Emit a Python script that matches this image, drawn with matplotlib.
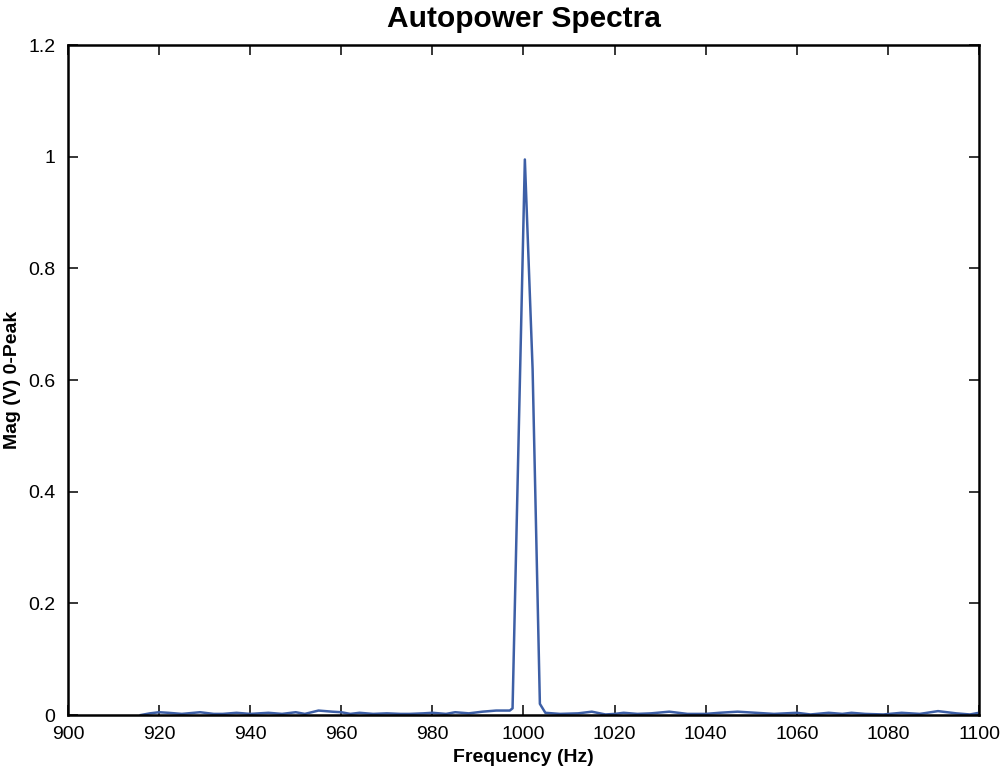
import matplotlib
matplotlib.use("Agg")
import matplotlib.pyplot as plt

plt.rcParams['font.family'] = ['Liberation Sans', 'DejaVu Sans']

freq_hz = [916, 918, 920, 922, 925, 929, 932, 934, 937, 940, 944, 947, 950, 952,
           955, 958, 960, 962, 964, 967, 970, 973, 975, 978, 980, 983, 985, 988,
           991, 994, 997, 997.6, 1000.3, 1002.0, 1003.6, 1004.8, 1008, 1012, 1015,
           1018, 1020, 1022, 1025, 1028, 1032, 1036, 1040, 1043, 1047, 1051, 1055,
           1060, 1063, 1067, 1070, 1072, 1075, 1079, 1083, 1087, 1091, 1095, 1098, 1100]
mag_v = [0.0, 0.003, 0.005, 0.004, 0.002, 0.005, 0.002, 0.002, 0.004, 0.002, 0.004,
         0.002, 0.005, 0.002, 0.008, 0.006, 0.005, 0.002, 0.004, 0.002, 0.003, 0.002,
         0.002, 0.003, 0.004, 0.002, 0.005, 0.003, 0.006, 0.008, 0.008, 0.012, 0.995,
         0.62, 0.02, 0.004, 0.002, 0.003, 0.006, 0.001, 0.002, 0.004, 0.002, 0.003,
         0.006, 0.002, 0.002, 0.004, 0.006, 0.004, 0.002, 0.004, 0.001, 0.004, 0.002,
         0.004, 0.002, 0.001, 0.004, 0.002, 0.007, 0.003, 0.001, 0.004]

xticks = list(range(900, 1101, 20))
yticks = [0, 0.2, 0.4, 0.6, 0.8, 1, 1.2]
ytick_labels = ['0', '0.2', '0.4', '0.6', '0.8', '1', '1.2']

fig = plt.figure(figsize=(10.04, 7.72), dpi=100)
ax = fig.add_axes([0.0677, 0.0738, 0.9074, 0.8679])
ax.plot(freq_hz, mag_v, color='#3d5fa6', linewidth=1.8)
ax.set_xlim(900, 1100)
ax.set_ylim(0, 1.2)
ax.set_xticks(xticks)
ax.set_yticks(yticks)
ax.set_yticklabels(ytick_labels)
ax.tick_params(direction='in', length=7, width=1.1, labelsize=14,
               top=True, right=True, colors='black')
ax.tick_params(axis='x', pad=8)
ax.tick_params(axis='y', pad=9)
for s in ax.spines.values():
    s.set_linewidth(1.8)
ax.set_title('Autopower Spectra', fontsize=21.5, fontweight='bold', pad=13)
ax.set_xlabel('Frequency (Hz)', fontsize=14, fontweight='bold', labelpad=4)
ax.set_ylabel('Mag (V) 0-Peak', fontsize=14, fontweight='bold', labelpad=5)

fig.savefig('out.png', dpi=100)
